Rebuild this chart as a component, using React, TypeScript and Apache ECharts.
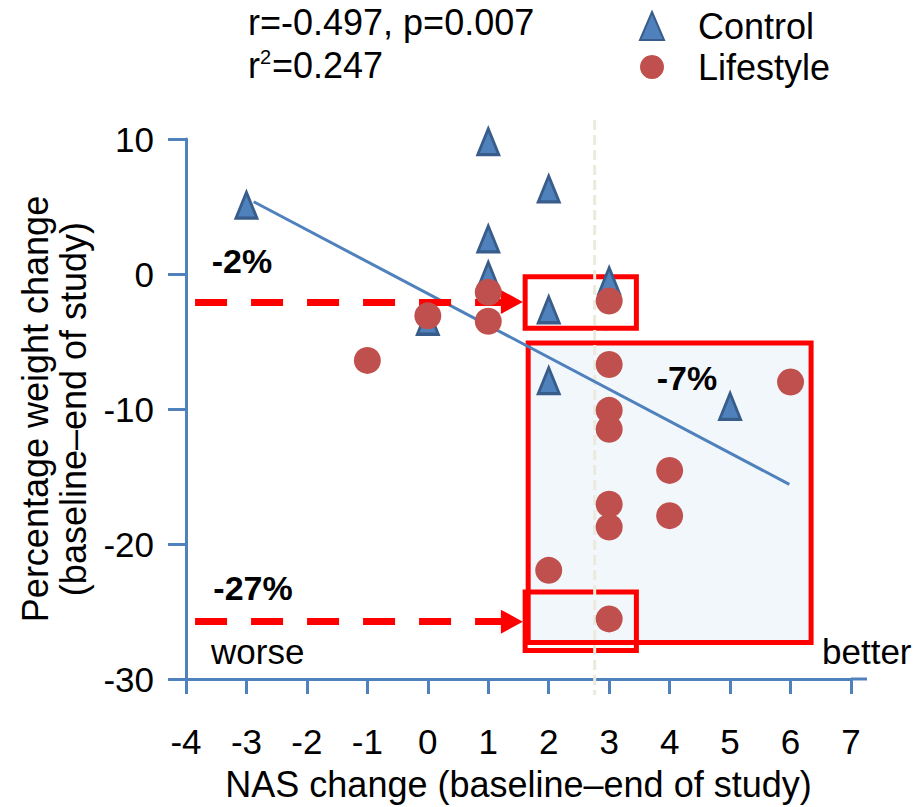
import React, { useEffect, useRef } from "react";
import * as echarts from "echarts";

const FONT = "'Liberation Sans', Arial, Helvetica, sans-serif";

// Axis ranges / ticks
const xMin = -4;
const xMax = 7;
const xStep = 1;
const yMin = -30;
const yMax = 10;
const yStep = 10;

// Series values (NAS change, % weight change)
const controlNAS = [-3, 0, 1, 1, 1, 2, 2, 2, 3, 5];
const controlWeight = [5.1, -3.5, 9.8, 2.6, -0.1, 6.3, -2.65, -7.9, -0.5, -9.8];
const lifestyleNAS = [-1, 0, 1, 1, 3, 3, 6, 3, 3, 4, 3, 3, 4, 2, 3];
const lifestyleWeight = [
  -6.4, -3.1, -1.35, -3.5, -2.0, -6.7, -8.0, -10.1, -11.5, -14.55, -17.05, -18.75, -17.9, -21.95, -25.55,
];

// Regression line end points
const fitNAS = [-2.88, 5.98];
const fitWeight = [5.35, -15.58];

// Reference / annotation values (data units)
const cutoffNAS = 2.76;
const arrowStartNAS = -3.85;
const arrowEndNAS = 1.39;
const arrowWeight = [-2.07, -25.75];
const arrowLabels = ["-2%", "-27%"];
const groupLabel = "-7%";
const bigBoxNAS = [1.66, 6.34];
const bigBoxWeight = [-5.12, -27.29];
const smallBoxNAS = [1.61, 3.45];
const smallBoxWeight = [
  [-0.2, -4.02],
  [-23.55, -27.88],
];

const statLine1 = "r=-0.497, p=0.007";
const statR = "r";
const statSup = "2";
const statRest = "=0.247";

export default function App() {
  const ref = useRef<HTMLDivElement>(null);

  useEffect(() => {
    if (!ref.current) return;
    const chart = echarts.init(ref.current, null, { renderer: "svg" });
    const axisColor = "#4F81BD";
    const red = "#FF0000";

    const controlData = controlNAS.map((x, i) => [x, controlWeight[i]]);
    const lifestyleData = lifestyleNAS.map((x, i) => [x, lifestyleWeight[i]]);
    const fitData = fitNAS.map((x, i) => [x, fitWeight[i]]);

    const boxBorder = { borderColor: red, borderWidth: 5 };

    const option: any = {
      animation: false,
      backgroundColor: "#ffffff",
      textStyle: { fontFamily: FONT },
      grid: { left: 186, right: 72, top: 139, bottom: 123 },
      legend: {
        orient: "vertical",
        left: 639,
        top: 8,
        padding: 0,
        itemGap: 5,
        itemWidth: 24,
        itemHeight: 28,
        data: [
          { name: "Control", textStyle: { padding: [0, 0, 8, 29] } },
          { name: "Lifestyle" },
        ],
        textStyle: { fontSize: 36, color: "#000", fontFamily: FONT, padding: [0, 0, 0, 29] },
      },
      xAxis: {
        type: "value",
        min: xMin,
        max: xMax,
        interval: xStep,
        name: "NAS change (baseline–end of study)",
        nameLocation: "middle",
        nameGap: 87,
        nameTextStyle: { fontSize: 36, color: "#000", fontFamily: FONT },
        axisLine: { onZero: false, lineStyle: { color: axisColor, width: 3 } },
        axisTick: { show: true, length: 15, lineStyle: { color: axisColor, width: 3 } },
        axisLabel: { fontSize: 35, color: "#000", margin: 45, fontFamily: FONT },
        splitLine: { show: false },
      },
      yAxis: {
        type: "value",
        min: yMin,
        max: yMax,
        interval: yStep,
        name: "Percentage weight change\n(baseline–end of study)",
        nameLocation: "middle",
        nameGap: 77,
        nameTextStyle: { fontSize: 36, lineHeight: 38, color: "#000", fontFamily: FONT, align: "center" },
        axisLine: { onZero: false, lineStyle: { color: axisColor, width: 3 } },
        axisTick: { show: true, length: 18, lineStyle: { color: axisColor, width: 3 } },
        axisLabel: { fontSize: 35, color: "#000", margin: 32, fontFamily: FONT },
        splitLine: { show: false },
      },
      series: [
        {
          name: "annotations",
          type: "scatter",
          data: [],
          silent: true,
          markArea: {
            silent: true,
            z: 1,
            label: { show: false },
            data: [
              [
                {
                  coord: [bigBoxNAS[0], bigBoxWeight[0]],
                  itemStyle: { color: "#F2F7FB", ...boxBorder },
                },
                { coord: [bigBoxNAS[1], bigBoxWeight[1]] },
              ],
              ...smallBoxWeight.map((w) => [
                {
                  coord: [smallBoxNAS[0], w[0]],
                  itemStyle: { color: "rgba(0,0,0,0)", ...boxBorder },
                },
                { coord: [smallBoxNAS[1], w[1]] },
              ]),
            ],
          },
          markLine: {
            silent: true,
            symbol: ["none", "triangle"],
            symbolSize: [24, 22],
            label: { show: false },
            lineStyle: { color: red, width: 7, type: [32, 24] },
            data: arrowWeight.map((w) => [
              { coord: [arrowStartNAS, w] },
              { coord: [arrowEndNAS, w] },
            ]),
          },
        },
        {
          name: "fit",
          type: "line",
          data: fitData,
          showSymbol: false,
          symbol: "none",
          silent: true,
          z: 3,
          lineStyle: { color: "#4F81BD", width: 3 },
        },
        {
          name: "Control",
          type: "scatter",
          data: controlData,
          symbol: "triangle",
          symbolSize: [21, 26],
          z: 4,
          itemStyle: { color: "#4F81BD", borderColor: "#385D8A", borderWidth: 3, opacity: 1 },
        },
        {
          name: "Lifestyle",
          type: "scatter",
          data: lifestyleData,
          symbol: "circle",
          symbolSize: 27,
          z: 5,
          itemStyle: { color: "#C0504D", opacity: 1 },
        },
      ],
    };

    chart.setOption(option);

    const topPt = chart.convertToPixel({ gridIndex: 0 }, [cutoffNAS, yMax]) as number[];
    const botPt = chart.convertToPixel({ gridIndex: 0 }, [cutoffNAS, yMin]) as number[];
    const axisEnd = chart.convertToPixel({ gridIndex: 0 }, [xMax, yMin]) as number[];

    const txt = (text: string, x: number, y: number, opts: any = {}) => ({
      type: "text",
      x,
      y,
      z: 10,
      silent: true,
      style: {
        text,
        fill: "#000",
        fontSize: 35,
        fontFamily: FONT,
        fontWeight: "normal",
        align: "left",
        verticalAlign: "middle",
        ...opts,
      },
    });

    chart.setOption({
      graphic: [
        {
          type: "line",
          z: 1.5,
          silent: true,
          shape: { x1: topPt[0], y1: topPt[1] - 19, x2: botPt[0], y2: botPt[1] + 16 },
          style: { stroke: "#ECE9DE", lineWidth: 3, lineDash: [10, 5] },
        },
        {
          type: "line",
          z: 1,
          silent: true,
          shape: { x1: axisEnd[0], y1: axisEnd[1], x2: axisEnd[0] + 16, y2: axisEnd[1] },
          style: { stroke: axisColor, lineWidth: 3 },
        },
        txt(arrowLabels[0], 242, 261, { fontWeight: "bold", align: "center", fontSize: 34 }),
        txt(arrowLabels[1], 253, 588, { fontWeight: "bold", align: "center", fontSize: 34 }),
        txt(groupLabel, 687, 378, { fontWeight: "bold", align: "center", fontSize: 34 }),
        txt("worse", 211, 651),
        txt("better", 822, 651),
        txt(statLine1, 248, 22, { fontSize: 36 }),
        txt(statR, 248, 65, { fontSize: 36 }),
        txt(statSup, 260, 57, { fontSize: 20 }),
        txt(statRest, 272, 65, { fontSize: 36 }),
      ],
    });

    return () => chart.dispose();
  }, []);

  return (
    <div
      ref={ref}
      style={{ position: "fixed", left: 0, top: 0, width: 923, height: 807, background: "#fff" }}
    />
  );
}
